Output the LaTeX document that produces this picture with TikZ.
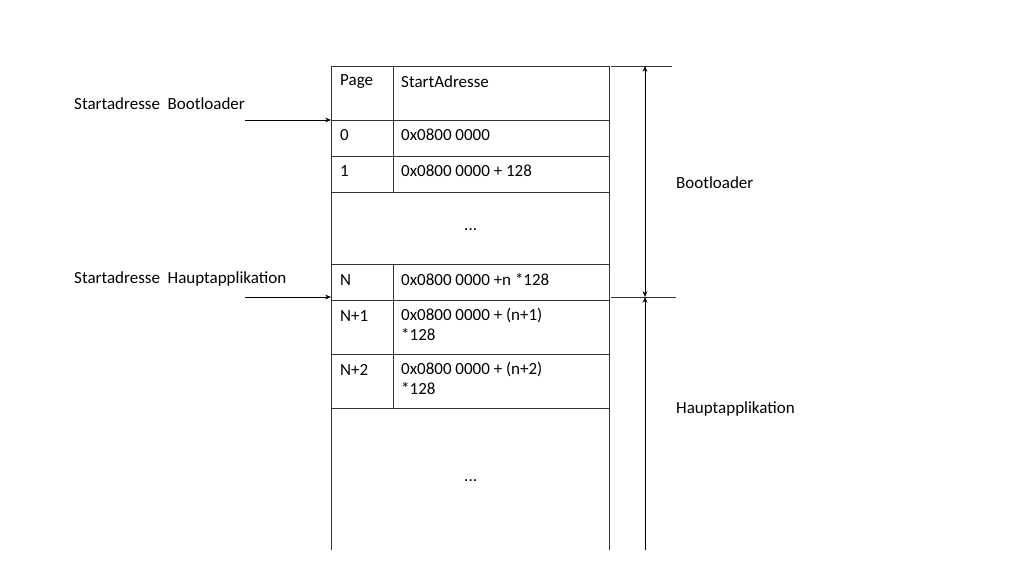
\documentclass[tikz,border=0pt]{standalone}
\usepackage{fontspec}
\setmainfont{Carlito}
\usetikzlibrary{arrows.meta,positioning}
\begin{document}
\begin{tikzpicture}[x=0.03cm,y=-0.03cm, every node/.style={font=\fontsize{14.5}{17}\selectfont, inner sep=0pt, anchor=west},
  tline/.style={black!80, line width=0.6pt},
  marrow/.style={-{Stealth[length=5pt,width=4pt]}, line width=0.6pt}]
\useasboundingbox (0,0) rectangle (1024,576);
% table frame
\draw[tline] (331,550) -- (331,66) -- (609,66) -- (609,550);
\foreach \y in {120,156,192,264,300,354,408} \draw[tline] (331,\y) -- (609,\y);
\foreach \a/\b in {66/192,264/408} \draw[tline] (393,\a) -- (393,\b);
% cells
\node (p0) at (340,82) {Page};
\node (s0) at (401,82) {StartAdresse};
\node (p1) at (340,135) {0};
\node (s1) at (401,135) {0x0800 0000};
\node (p2) at (340,171) {1};
\node (s2) at (401,171) {0x0800 0000 + 128};
\node (d1) at (464,230) {...};
\node (p3) at (340,280) {N};
\node (s3) at (401,280) {0x0800 0000 +n *128};
\node (p4) at (340,316) {N+1};
\node[align=left, anchor=north west] (s4) at (401,308) {0x0800 0000 + (n+1)\\*128};
\node (p5) at (340,370) {N+2};
\node[align=left, anchor=north west] (s5) at (401,362) {0x0800 0000 + (n+2)\\*128};
\node (d2) at (464,481) {...};
% left side
\node (lb) at (74,104) {Startadresse\ \ Bootloader};
\node (lh) at (74,279) {Startadresse\ \ Hauptapplikation};
\coordinate (ab) at (245,120);
\coordinate (ah) at (245,297);
\draw[marrow] (ab) -- (331,120);
\draw[marrow] (ah) -- (331,297);
% right side
\coordinate (rt) at (645,66);
\coordinate (rm) at (645,297);
\coordinate (rb) at (645,550);
\draw[tline] (611,66) -- (672,66);
\draw[tline] (611,297) -- (676,297);
\draw[{Stealth[length=5pt,width=4pt]}-{Stealth[length=5pt,width=4pt]}, line width=0.6pt] (rt) -- (rm);
\draw[marrow] (rb) -- (rm);
\node (bl) at (676,183) {Bootloader};
\node (ha) at (676,409) {Hauptapplikation};
\end{tikzpicture}
\end{document}
